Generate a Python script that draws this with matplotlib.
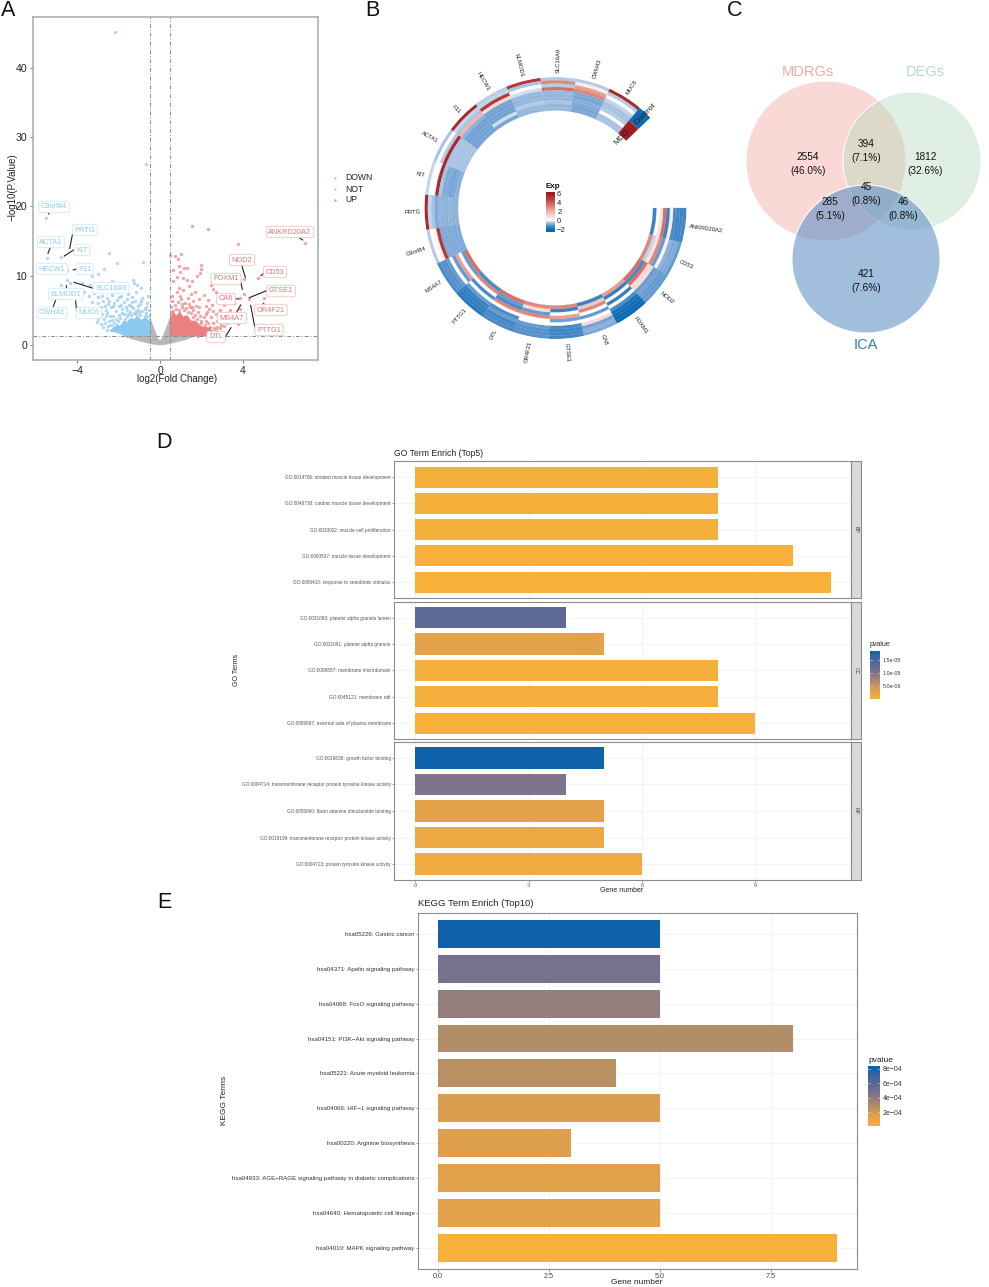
import numpy as np
import matplotlib
matplotlib.use("Agg")
import matplotlib.pyplot as plt
from matplotlib.colors import LinearSegmentedColormap, Normalize
from matplotlib.lines import Line2D
from matplotlib.patches import Circle

plt.rcParams['font.family'] = ['Liberation Sans', 'DejaVu Sans']
W, H = 989, 1287

# ---------- Panel A data ----------
down_points = [(-2.17,45.2),(-0.7,26.1),(-5.5,18.4),(-5.47,12.6),(-4.78,12.7),(-2.45,13.3),(-0.8,11.9),(-2.1,11.8),
 (-4.5,10.8),(-2.7,10.9),(-3.0,10.3),(-3.3,10.0),(-4.5,9.3),(-4.8,8.6),(-4.35,8.9),(-3.75,9.0),(-3.4,8.6),(-2.3,9.2),
 (-1.3,9.4),(-1.25,9.0),(-1.1,8.6),(-0.9,8.2),(-1.6,8.5),(-1.7,7.9),(-2.0,8.1),(-2.35,7.6),(-2.6,8.0),(-3.65,7.7),
 (-3.45,7.0),(-3.2,7.5),(-3.0,6.9),(-2.8,7.1),(-2.55,6.7),(-2.3,7.2),(-2.1,6.5),(-1.9,7.0),(-1.55,7.4),(-1.35,6.9),
 (-1.15,7.6),(-0.85,6.8),(-0.6,7.0),(-3.3,6.2),(-3.0,6.0),(-2.75,6.3),(-2.5,5.9),(-2.2,6.1),(-2.0,5.6),(-1.75,6.2),
 (-1.5,5.8),(-1.2,6.3),(-0.95,5.9),(-0.7,5.4),(-3.5,5.3),(-3.1,5.1),(-2.85,5.5),(-2.6,5.0),(-2.35,5.4),(-2.15,4.9),
 (-1.85,5.2),(-1.6,5.0),(-1.3,5.3),(-1.05,5.1),(-2.8,4.4),(-2.55,4.6),(-2.25,4.2),(-2.7,3.7),(-2.45,3.5),(-2.9,4.0),
 (-3.2,4.9),(-2.2,3.2),(-1.95,3.9),(-1.75,4.4),(-2.05,3.5),(-2.35,2.9),(-2.2,2.5),(-1.9,2.4),
 (-3.05,3.3),(-2.85,3.0),(-2.65,3.1),(-2.5,2.7),(-2.75,2.6),(-2.4,4.1),(-2.15,3.8),(-2.0,4.3),(-1.85,4.6),(-1.7,3.8),
 (-1.55,4.5),(-1.45,4.8),(-1.25,4.6),(-1.15,4.9),(-1.0,4.7),(-0.85,4.9),(-0.7,4.6),(-0.6,4.2),(-0.55,5.0),(-0.75,5.2),
 (-1.4,5.6),(-1.65,5.5),(-1.9,5.8),(-2.25,5.6),(-2.45,6.3),(-1.05,5.6),(-0.65,6.1),(-0.9,6.4),(-1.35,6.2),(-1.6,6.6),
 (-2.0,6.9),(-2.65,5.6),(-2.95,4.7),(-3.3,4.4),(-3.0,3.8),(-2.6,4.1),(-2.3,3.6),(-2.1,2.9),(-2.55,2.2),(-2.3,2.1),
 (-1.6,4.2),(-1.4,4.3),(-1.15,4.4),(-0.95,4.3),(-0.75,4.1)]
up_points = [(1.55,17.2),(2.3,16.8),(7.0,14.7),(3.75,14.6),(0.5,13.0),(0.7,12.9),(1.0,13.2),(0.85,12.4),(0.9,11.4),
 (1.15,11.1),(1.3,11.1),(2.0,11.5),(2.0,11.0),(0.65,10.8),(0.95,10.5),(1.95,10.4),(1.8,9.9),(1.55,9.2),(0.8,9.8),
 (1.1,9.6),(1.3,9.4),(0.65,9.2),(3.6,10.2),(4.75,9.7),(4.05,9.5),(2.95,9.4),(2.45,8.7),(2.55,8.1),(2.7,7.7),(1.4,8.5),
 (0.9,8.2),(1.1,7.9),(1.7,7.6),(2.1,7.2),(1.5,7.4),(0.8,7.6),(4.05,7.3),(3.85,6.7),(4.3,6.6),(5.0,6.7),(3.2,6.6),
 (2.75,6.5),(2.3,6.5),(1.9,6.6),(1.6,6.3),(3.55,6.0),(3.1,5.7),(2.5,5.8),(2.2,5.6),(1.75,5.6),(1.45,5.5),(0.6,6.3),
 (3.85,5.2),(3.4,5.0),(2.9,5.0),(2.55,4.9),(2.25,4.7),(1.85,4.8),(1.6,5.0),(3.6,4.4),(3.15,4.2),(2.85,4.2),(2.45,4.0),
 (2.1,4.0),(3.4,3.5),(3.0,3.3),(2.75,3.4),(2.3,3.1),(2.75,2.6),(3.1,2.7),(2.4,2.6),(3.75,3.0),(4.1,3.9),(1.85,1.2),(2.3,1.2),
 (0.55,5.4),(0.7,5.8),(0.85,6.2),(1.0,6.6),(1.2,6.1),(1.35,6.7),(0.6,7.0),(0.95,7.1),(1.25,5.3),(1.05,5.4),(0.75,5.2),
 (1.5,4.6),(1.7,4.3),(1.95,4.2),(2.0,3.5),(1.8,3.7),(2.2,3.4),(2.55,3.2),(2.9,2.4),(2.6,2.4),(1.6,4.0),(1.35,4.7),
 (1.15,5.0),(0.9,5.1),(2.15,2.9),(2.35,2.4),(2.5,2.0),(2.7,2.1),(2.0,3.1),(1.4,5.9),(1.9,5.4),(2.35,5.2),(2.7,4.5),
 (3.0,3.8),(3.25,3.1),(2.95,2.9),(2.2,4.4),(1.55,5.4),(1.05,5.9),(0.65,4.9),(0.55,4.7)]
# outlines of the saturated parts of the clouds
down_cloud_x = [-0.5,-0.5,-0.7,-0.9,-1.1,-1.25,-1.4,-1.6,-1.75,-1.9,-2.1,-2.4,-2.05,-1.7,-0.5]
down_cloud_y = [1.3,3.3,3.9,3.5,4.1,3.6,3.8,3.2,3.4,2.7,2.7,2.0,1.8,1.3,1.3]
up_cloud_x = [0.5,0.5,0.65,0.8,0.95,1.1,1.3,1.5,1.7,2.0,2.25,2.6,2.25,0.5]
up_cloud_y = [1.3,3.9,4.6,4.1,4.7,4.0,4.2,3.4,3.4,2.6,2.5,1.8,1.3,1.3]
grey_cloud_x = [-1.65,-0.5,-0.5,-0.3,-0.12,0,0.12,0.3,0.5,0.5,1.55,1.55,1.2,0.8,0.4,0,-0.4,-0.8,-1.2,-1.65]
grey_cloud_y = [1.3,1.3,3.9,2.3,0.9,0.5,0.9,2.3,3.9,1.3,1.3,1.15,0.75,0.45,0.15,0,0.15,0.45,0.75,1.15]
down_labels = [("C9orf84",54,207),("PRTG",85,230),("ACTA1",51,242),("KIT",82,250),("HECW1",52,269),("F11",85,269),
               ("SLC16A9",111,288),("ELMOD1",66,294),("CWH43",52,313),("MUC6",89,313)]
up_labels = [("ANKRD20A2",290,232),("NOD2",242,260),("CD53",275,272),("FOXM1",226,279),("GTSE1",281,291),("CA8",226,299),
             ("OR4F21",271,310),("MS4A7",232,318),("PTTG1",269,330),("DTL",216,337)]
connectors = [(150,636,145,642),(218,700,209,745),(151,742,144,760),(224,748,193,768),(232,806,220,810),(280,865,222,847),
              (200,866,199,857),(168,897,158,925),(227,903,230,935),(900,715,908,720),(725,795,736,832),(792,819,783,827),
              (722,845,727,868),(800,872,748,893),(708,896,716,897),(790,910,797,917),(722,915,708,940),(752,916,765,985),
              (693,983,675,1012)]

# ---------- Panel B data ----------
heat_genes = ["ANKRD20A2","CD53","NOD2","FOXM1","CA8","GTSE1","OR4F21","DTL","PTTG1","MS4A7",
              "C9orf84","PRTG","KIT","ACTA1","F11","HECW1","ELMOD1","SLC16A9","CWH43","MUC6"]
heat_values = [
 [-1.3,-1.3,-1.3,-1.2, 0.6,-1.4, 3.5, 0.8, 0.0,-1.4],
 [-1.0,-0.8,-0.8,-0.7, 0.4,-1.0, 3.0, 0.8,-0.3, 3.0],
 [-1.0,-1.0,-1.0,-0.9,-1.0, 1.0, 1.0, 3.5,-1.2, 3.5],
 [-2.0,-2.0,-1.9,-1.8,-1.2, 0.0,-1.5, 0.2,-1.5, 2.5],
 [-0.8,-0.7,-0.9, 1.0, 0.0,-1.0, 0.0, 3.0, 1.5,-1.4],
 [-1.3,-1.3,-1.3,-1.2, 0.0,-0.9, 2.5, 0.0,-1.4, 3.0],
 [-1.1,-1.1,-1.1,-1.0, 0.0, 0.0, 3.0,-1.0, 1.0, 3.0],
 [-1.2,-1.2,-1.3,-1.0,-1.2, 0.0, 3.0,-1.2,-1.0, 3.5],
 [-1.6,-1.5,-1.5,-1.4,-1.0, 0.0,-1.2, 0.0, 3.0,-1.2],
 [-1.2,-1.1,-1.1,-1.0, 0.0,-1.0, 2.5, 0.0,-1.0, 3.5],
 [-0.4, 0.0, 0.4, 5.0,-0.8,-0.8,-0.8,-0.8,-0.8,-0.8],
 [ 5.5,-0.3,-0.5,-0.8,-0.65,-0.7,-0.7,-0.65,-0.7,-0.7],
 [-0.3, 0.0, 0.0, 5.5,-0.5,-0.8,-0.8,-0.85,-0.8,-0.7],
 [-0.5, 0.0,-0.4, 5.5,-0.5,-0.5,-0.5,-0.5,-0.5,-0.5],
 [ 5.5,-0.3,-0.5, 2.0,-0.7,-0.9,-0.9,-0.85,-0.9,-0.85],
 [-0.4,-0.3, 5.0, 1.0,-0.85,-0.9,-0.85,-0.9,-0.2,-0.85],
 [ 5.0,-0.5, 0.0,-0.2,-0.6,-0.65,-0.6,-0.4,-0.6,-0.65],
 [-0.4, 3.0,-0.4, 3.5,-0.6,-0.65,-0.65,-0.5,-0.65,-0.6],
 [-0.4, 0.5, 2.5, 3.0,-0.8,-0.85,-0.75,-0.8,-0.85,-0.8],
 [ 5.5,-0.4, 0.0,-0.3,-0.5,-0.5,-0.4, 0.0,-0.5,-0.5],
]

# ---------- Panel C data ----------
venn_numbers = [("2554","(46.0%)",808,157),("394","(7.1%)",866,144),("1812","(32.6%)",925,157),("285","(5.1%)",830,202),
                ("45","(0.8%)",866,187),("46","(0.8%)",903,202),("421","(7.6%)",866,274)]

# ---------- Panel D data ----------
go_bp_terms = ["GO:0014706: striated muscle tissue development","GO:0048738: cardiac muscle tissue development",
               "GO:0033002: muscle cell proliferation","GO:0060537: muscle tissue development",
               "GO:0009410: response to xenobiotic stimulus"]
go_bp_counts = [8,8,8,10,11]
go_bp_p = [3e-7,3e-7,3e-7,2e-7,1e-7]
go_cc_terms = ["GO:0031093: platelet alpha granule lumen","GO:0031091: platelet alpha granule",
               "GO:0098857: membrane microdomain","GO:0045121: membrane raft","GO:0009897: external side of plasma membrane"]
go_cc_counts = [4,5,8,8,9]
go_cc_p = [1.3e-5,3.0e-6,4e-7,4e-7,2e-7]
go_mf_terms = ["GO:0019838: growth factor binding","GO:0004714: transmembrane receptor protein tyrosine kinase activity",
               "GO:0050660: flavin adenine dinucleotide binding","GO:0019199: transmembrane receptor protein kinase activity",
               "GO:0004713: protein tyrosine kinase activity"]
go_mf_counts = [5,4,5,5,6]
go_mf_p = [1.86e-5,1.0e-5,3.0e-6,1.6e-6,1.3e-6]

# ---------- Panel E data ----------
kegg_terms = ["hsa05226: Gastric cancer","hsa04371: Apelin signaling pathway","hsa04068: FoxO signaling pathway",
              "hsa04151: PI3K\u2212Akt signaling pathway","hsa05221: Acute myeloid leukemia","hsa04066: HIF\u22121 signaling pathway",
              "hsa00220: Arginine biosynthesis","hsa04933: AGE\u2212RAGE signaling pathway in diabetic complications",
              "hsa04640: Hematopoietic cell lineage","hsa04010: MAPK signaling pathway"]
kegg_counts = [5,5,5,8,4,5,3,5,5,9]
kegg_p = [8.4e-4,4.9e-4,3.9e-4,2.9e-4,2.7e-4,1.7e-4,1.6e-4,1.5e-4,1.4e-4,1e-5]

# ---------- helpers ----------
fig = plt.figure(figsize=(W/100, H/100), dpi=100, facecolor='white')

def rect(x0, y0, x1, y1):
    return [x0/W, 1-y1/H, (x1-x0)/W, (y1-y0)/H]

def ftext(x, y, s, **kw):
    kw.setdefault('ha', 'center'); kw.setdefault('va', 'center')
    fig.text(x/W, 1-y/H, s, **kw)

def fline(x0, y0, x1, y1, **kw):
    fig.add_artist(Line2D([x0/W, x1/W], [1-y0/H, 1-y1/H], transform=fig.transFigure, **kw))

for letter, x, y in [("A",8,11),("B",372,11),("C",735,11),("D",164,443),("E",164,902)]:
    ftext(x, y, letter, fontsize=15.5, color='#111111')

# ---------- Panel A ----------
axA = fig.add_axes(rect(32.5, 17, 318, 360))
axA.set_xlim(-6.16, 7.63); axA.set_ylim(-2.2, 47.4)
C_DOWN, C_UP, C_NOT = '#8cc8ef', '#ea8080', '#b8b8b8'
axA.fill(grey_cloud_x, grey_cloud_y, color=C_NOT, lw=0.8)
axA.fill(down_cloud_x, down_cloud_y, color=C_DOWN, lw=0.8)
axA.fill(up_cloud_x, up_cloud_y, color=C_UP, lw=0.8)
axA.scatter(*zip(*down_points), s=6, color=C_DOWN, alpha=0.7, lw=0)
axA.scatter(*zip(*up_points), s=6, color=C_UP, alpha=0.7, lw=0)
for v in (-0.5, 0.5):
    axA.axvline(v, color='#8a8a8a', lw=0.7, ls=(0, (4, 2, 1, 2)))
axA.axhline(1.3, color='#8a8a8a', lw=0.7, ls=(0, (4, 2, 1, 2)))
axA.set_xticks([-4, 0, 4]); axA.set_xticklabels(['\u22124', '0', '4'])
axA.set_yticks([0, 10, 20, 30, 40])
axA.tick_params(labelsize=7.6, length=2.5, width=0.6, color='#666666', pad=1.5, labelcolor='#222222')
for s in axA.spines.values():
    s.set_color('#a8a8a8'); s.set_linewidth(1.1)
ftext(177, 379, 'log2(Fold Change)', fontsize=7, color='#222222')
ftext(12, 187, '\u2212log10(P.Value)', fontsize=7, rotation=90, color='#222222')
for x0, y0, x1, y1 in connectors:
    fline(x0/3, y0/3, x1/3, y1/3, color='#222222', lw=0.8, zorder=5)
for labels, tc, ec in [(down_labels, '#8ccbf0', '#cfe8f8'), (up_labels, '#e87474', '#f6bfbf')]:
    for name, x, y in labels:
        ftext(x, y, name, fontsize=5.3, color=tc, zorder=6,
              bbox=dict(boxstyle='round,pad=0.3', fc='white', ec=ec, lw=0.6))
for name, c, y in [("DOWN", C_DOWN, 178), ("NOT", C_NOT, 189), ("UP", C_UP, 200)]:
    fig.add_artist(Line2D([335/W], [1-y/H], marker='o', ms=1.6, color=c, mew=0, transform=fig.transFigure))
    ftext(345, y, name, ha='left', fontsize=6.2, color='#222222')

# ---------- Panel B ----------
exp_cmap = LinearSegmentedColormap.from_list('exp', [(0, '#0a6ab2'), (0.1, '#4a8cc8'), (0.14, '#76a3d6'), (0.19, '#aac4e3'),
                                                    (0.225, '#d0dff0'), (0.25, '#ffffff'), (0.5, '#f0b5ab'), (0.75, '#cc5a52'), (1, '#9e1b1e')])
exp_norm = Normalize(-2, 6)
cx, cy, R, r0 = 555.5, 208, 131, 97.5
axB = fig.add_axes(rect(cx-R, cy-R, cx+R, cy+R), projection='polar')
axB.set_theta_zero_location('E'); axB.set_theta_direction(-1)
axB.set_ylim(0, R); axB.axis('off')
step = np.deg2rad(15.5)
dr = (R-r0)/10
for i, gene in enumerate(heat_genes):
    for j, val in enumerate(heat_values[i]):
        c = exp_cmap(exp_norm(val))
        axB.bar((i+0.5)*step, dr, width=step, bottom=R-(j+1)*dr, color=c, ec=c, lw=0.15)
    th = (i+0.5)*15.5
    math_a = (-th) % 360
    right = math_a < 90 or math_a > 270
    axB.text(np.deg2rad(th), R+4, gene, fontsize=4.2, color='#222222', clip_on=False,
             rotation=math_a if right else math_a-180, rotation_mode='anchor',
             ha='left' if right else 'right', va='center')
end = 20*step
axB.bar(end+np.deg2rad(3.2), R-(r0+R)/2, width=np.deg2rad(6.4), bottom=(r0+R)/2, color='#0f6cb3', lw=0)
axB.bar(end+np.deg2rad(3.2), (R-r0)/2, width=np.deg2rad(6.4), bottom=r0, color='#a01c20', lw=0)
ftext(645.7, 114, 'Control', fontsize=6, rotation=45, color='#222222')
ftext(622, 137, 'MDD', fontsize=6, rotation=45, color='#222222')
ftext(546, 187, 'Exp', fontsize=5.8, fontweight='bold', ha='left', color='#111111')
axL = fig.add_axes(rect(546, 192, 555, 232))
axL.imshow(np.linspace(6.3, -2.5, 200)[:, None], aspect='auto', cmap=exp_cmap, norm=exp_norm, extent=[0, 1, -2.5, 6.3])
axL.set_xticks([]); axL.yaxis.tick_right(); axL.set_yticks([6, 4, 2, 0, -2]); axL.set_yticklabels(['6', '4', '2', '0', '\u22122'])
axL.tick_params(labelsize=5.5, length=0, pad=1.5, labelcolor='#222222')
for s in axL.spines.values():
    s.set_visible(False)

# ---------- Panel C ----------
axC = fig.add_axes([0, 0, 1, 1]); axC.set_xlim(0, W); axC.set_ylim(H, 0); axC.axis('off'); axC.patch.set_alpha(0)
for (x, y, r, c, a) in [(826, 161, 80, '#f3a29b', 0.42), (912, 161, 69, '#b5dbbf', 0.42), (866, 259, 74, '#5f8fc6', 0.58)]:
    axC.add_patch(Circle((x, y), r, fc=c, ec='none', alpha=a))
    axC.add_patch(Circle((x, y), r, fc='none', ec='white', lw=0.7))
ftext(808, 72, 'MDRGs', fontsize=10.5, color='#f2aaa4')
ftext(925, 72, 'DEGs', fontsize=10.5, color='#b5dcc4')
ftext(866, 345, 'ICA', fontsize=10.5, color='#2f7dbb')
for a, b, x, y in venn_numbers:
    ftext(x, y, a, fontsize=7.2, color='#111111')
    ftext(x, y+14, b, fontsize=7.2, color='#111111')

# ---------- Panels D / E ----------
enrich_cmap = LinearSegmentedColormap.from_list('enrich', [(0, '#f7b13a'), (0.16, '#e3a24a'), (0.54, '#7d748b'), (0.7, '#5c6a95'), (1, '#0f62aa')])

def style_bar(ax, xlim, n, terms, label_size, xticks):
    ax.set_xlim(*xlim); ax.set_ylim(n+0.6, 0.4)
    ax.set_yticks(range(1, n+1)); ax.set_yticklabels(terms)
    ax.set_xticks(xticks)
    ax.grid(True, color='#eeeeee', lw=0.5); ax.set_axisbelow(True)
    ax.tick_params(axis='y', labelsize=label_size, length=1.5, width=0.4, pad=1, color='#555555', labelcolor='#555555')
    for s in ax.spines.values():
        s.set_color('#8c8c8c'); s.set_linewidth(0.8)

go_norm = Normalize(0, 1.86e-5)
panels = [(461.3, 598, go_bp_terms, go_bp_counts, go_bp_p, 'BP'),
          (601.7, 739, go_cc_terms, go_cc_counts, go_cc_p, 'CC'),
          (742, 880, go_mf_terms, go_mf_counts, go_mf_p, 'MF')]
for k, (y0, y1, terms, counts, ps, tag) in enumerate(panels):
    ax = fig.add_axes(rect(394.3, y0, 851, y1))
    ax.barh(range(1, 6), counts, height=0.8, color=[enrich_cmap(go_norm(p)) for p in ps], zorder=3)
    style_bar(ax, (-0.55, 11.53), 5, terms, 3.45, [0, 3, 6, 9])
    if k == 2:
        ax.tick_params(axis='x', labelsize=4, length=1.5, width=0.4, pad=1, color='#555555', labelcolor='#555555')
    else:
        ax.tick_params(axis='x', length=0, labelbottom=False)
    st = fig.add_axes(rect(851, y0, 861, y1), facecolor='#d9d9d9')
    st.set_xticks([]); st.set_yticks([])
    for s in st.spines.values():
        s.set_color('#8c8c8c'); s.set_linewidth(0.8)
    st.text(0.5, 0.5, tag, transform=st.transAxes, rotation=-90, ha='center', va='center', fontsize=3.8, color='#444444')
ftext(394, 454, 'GO Term Enrich (Top5)', ha='left', fontsize=6.2, color='#222222')
ftext(237, 670, 'GO Terms', rotation=90, fontsize=5, color='#222222')
ftext(622, 890, 'Gene number', fontsize=5, color='#222222')

def colorbar(box, norm, ticks, fmt, size):
    a = fig.add_axes(rect(*box))
    a.imshow(np.linspace(1, 0, 256)[:, None], aspect='auto', cmap=enrich_cmap, extent=[0, 1, norm.vmin, norm.vmax])
    a.set_xticks([]); a.yaxis.tick_right(); a.set_yticks(ticks); a.set_yticklabels([fmt(t) for t in ticks])
    a.tick_params(labelsize=size, length=0, pad=2, labelcolor='#333333')
    for s in a.spines.values():
        s.set_visible(False)
    for t in ticks:
        a.plot([0, 0.2], [t, t], color='white', lw=0.4, alpha=0.8)
        a.plot([0.8, 1], [t, t], color='white', lw=0.4, alpha=0.8)
    a.set_xlim(0, 1); a.set_ylim(norm.vmin, norm.vmax)

ftext(870, 645, 'pvalue', ha='left', fontsize=5, color='#222222')
colorbar((870, 650.7, 880, 699), go_norm, [5e-6, 1e-5, 1.5e-5], lambda t: f'{t:.1e}', 3.9)

kegg_norm = Normalize(0.1e-4, 8.4e-4)
axE = fig.add_axes(rect(418, 913, 857, 1268.7))
axE.barh(range(1, 11), kegg_counts, height=0.8, color=[enrich_cmap(kegg_norm(p)) for p in kegg_p], zorder=3)
style_bar(axE, (-0.45, 9.44), 10, kegg_terms, 4.45, [0, 2.5, 5, 7.5])
axE.set_xticklabels(['0.0', '2.5', '5.0', '7.5'])
axE.tick_params(axis='x', labelsize=5.2, length=2, width=0.4, pad=1, color='#555555', labelcolor='#444444')
axE.tick_params(axis='y', labelcolor='#333333')
ftext(418, 904, 'KEGG Term Enrich (Top10)', ha='left', fontsize=6.8, color='#222222')
ftext(225, 1100, 'KEGG Terms', rotation=90, fontsize=6, color='#222222')
ftext(637, 1282, 'Gene number', fontsize=6, color='#222222')
ftext(868, 1060, 'pvalue', ha='left', fontsize=6, color='#222222')
colorbar((868, 1066, 880, 1125.7), kegg_norm, [2e-4, 4e-4, 6e-4, 8e-4], lambda t: f'{t*1e4:.0f}e\u221204', 5)

fig.savefig('out.png', dpi=100, facecolor='white')
